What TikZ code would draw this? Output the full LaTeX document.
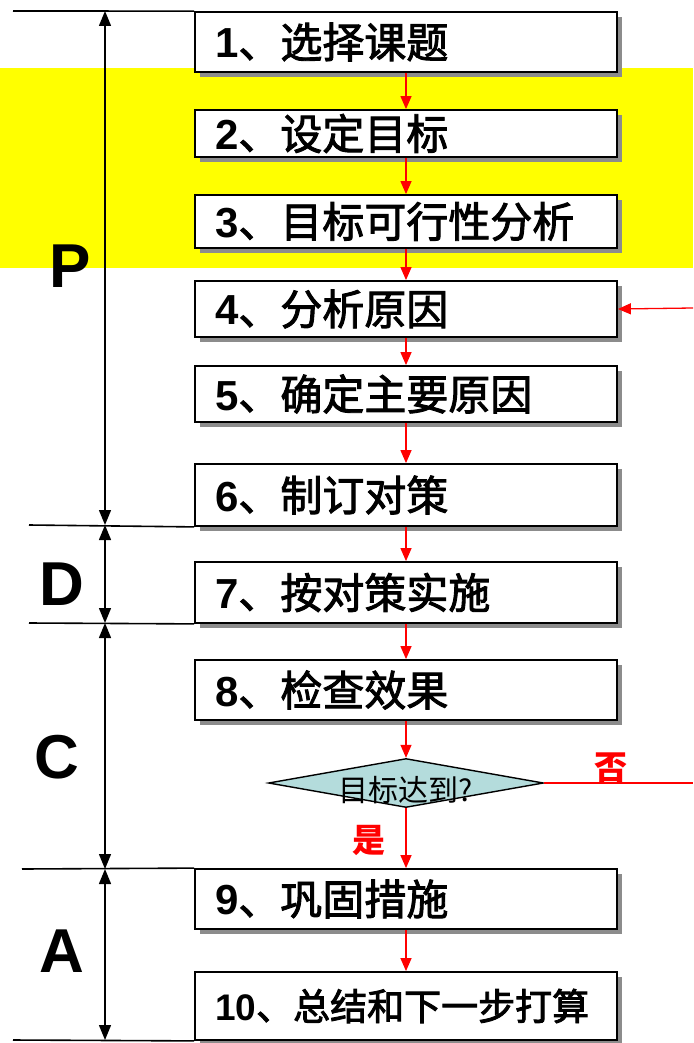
\documentclass[tikz,border=0pt]{standalone}
\usepackage{fontspec}
\setmainfont{Liberation Sans}
\newfontfamily\cjk{Noto Sans CJK SC}
\newcommand\heavy[1]{\special{pdf:literal direct 2 Tr 0.9 w 0 G}#1\special{pdf:literal direct 0 Tr}}
\newcommand\steptext[2]{\textbf{#1}{\cjk\heavy{、#2}}}
\usetikzlibrary{arrows.meta,shapes.geometric,shadows}
\definecolor{band}{RGB}{255,255,0}
\definecolor{dfill}{RGB}{180,220,220}
\tikzset{
  stepbox/.style={draw=black, line width=1.8pt, fill=white, minimum width=422pt,
    text width=382pt, align=left, inner xsep=20pt, inner ysep=0pt,
    font=\fontsize{42}{42}\selectfont,
    drop shadow={shadow xshift=5pt, shadow yshift=-5pt, fill=black!45, opacity=1}},
  flow/.style={red, line width=1.3pt, -{Triangle[length=13pt,width=11pt]}},
  dim/.style={black, line width=1.4pt, {Triangle[length=15pt,width=12pt]}-{Triangle[length=15pt,width=12pt]}},
  rule/.style={black, line width=1.6pt},
  phase/.style={font=\bfseries\fontsize{62}{62}\selectfont},
  yesno/.style={red, font=\cjk\bfseries\fontsize{33}{33}\selectfont},
}
\begin{document}
\begin{tikzpicture}[x=1pt,y=-1pt]
\useasboundingbox (0,0) rectangle (693,1043);
\fill[band] (0,68) rectangle (693,268);

\node[stepbox, minimum height=60pt] (b1) at (406,42) {\steptext{1}{选择课题}};
\node[stepbox, minimum height=47pt] (b2) at (406,133.5) {\steptext{2}{设定目标}};
\node[stepbox, minimum height=53pt] (b3) at (406,221.5) {\steptext{3}{目标可行性分析}};
\node[stepbox, minimum height=56pt] (b4) at (406,309) {\steptext{4}{分析原因}};
\node[stepbox, minimum height=56pt] (b5) at (406,394) {\steptext{5}{确定主要原因}};
\node[stepbox, minimum height=62pt] (b6) at (406,495) {\steptext{6}{制订对策}};
\node[stepbox, minimum height=61pt] (b7) at (406,592.5) {\steptext{7}{按对策实施}};
\node[stepbox, minimum height=60pt] (b8) at (406,690) {\steptext{8}{检查效果}};
\node[diamond, draw=black, line width=1.4pt, fill=dfill, minimum width=275pt, minimum height=49pt, inner sep=0pt,
  label={[font=\cjk\fontsize{30}{30}\selectfont, yshift=-7pt]center:目标达到?}] (dm) at (406,783) {};
\node[stepbox, minimum height=60pt] (b9) at (406,899) {\steptext{9}{巩固措施}};
\node[stepbox, minimum height=68pt, font=\fontsize{37}{37}\selectfont] (b10) at (406,1006) {\steptext{10}{总结和下一步打算}};

\draw[flow] (b1) -- (b2);
\draw[flow] (b2) -- (b3);
\draw[flow] (b3) -- (b4);
\draw[flow] (b4) -- (b5);
\draw[flow] (b5) -- (b6);
\draw[flow] (b6) -- (b7);
\draw[flow] (b7) -- (b8);
\draw[flow] (b8) -- (dm);
\draw[flow] (dm) -- (b9);
\draw[flow] (b9) -- (b10);

\coordinate (noout) at (693,783);
\coordinate (noin) at (693,308);
\draw[red, line width=1.3pt] (dm.east) -- (noout);
\draw[flow] (noin) -- (b4.east);
\node[yesno] (no) at (611,768) {否};
\node[yesno] (yes) at (369,840) {是};

% left phase markers
\coordinate (l0) at (13,11);
\coordinate (l1) at (29,525);
\coordinate (l2) at (29,623);
\coordinate (l3) at (22,869);
\coordinate (l4) at (13,1040);
\draw[rule] (l0) -- (b1.north west);
\draw[rule] (l1) -- (b6.south west);
\draw[rule] (l2) -- (b7.south west);
\draw[rule] (l3) -- (b9.north west);
\draw[rule] (l4) -- (b10.south west);

\coordinate (v0) at (105,11);
\coordinate (v1) at (105,525);
\coordinate (v2) at (105,623);
\coordinate (v3) at (105,869);
\coordinate (v4) at (105,1040);
\draw[dim] (v0) -- (v1);
\draw[dim] (v1) -- (v2);
\draw[dim] (v2) -- (v3);
\draw[dim] (v3) -- (v4);

\node[phase] (P) at (70,266) {P};
\node[phase] (D) at (62,584) {D};
\node[phase] (C) at (57,757) {C};
\node[phase] (A) at (62,951) {A};
\end{tikzpicture}
\end{document}
